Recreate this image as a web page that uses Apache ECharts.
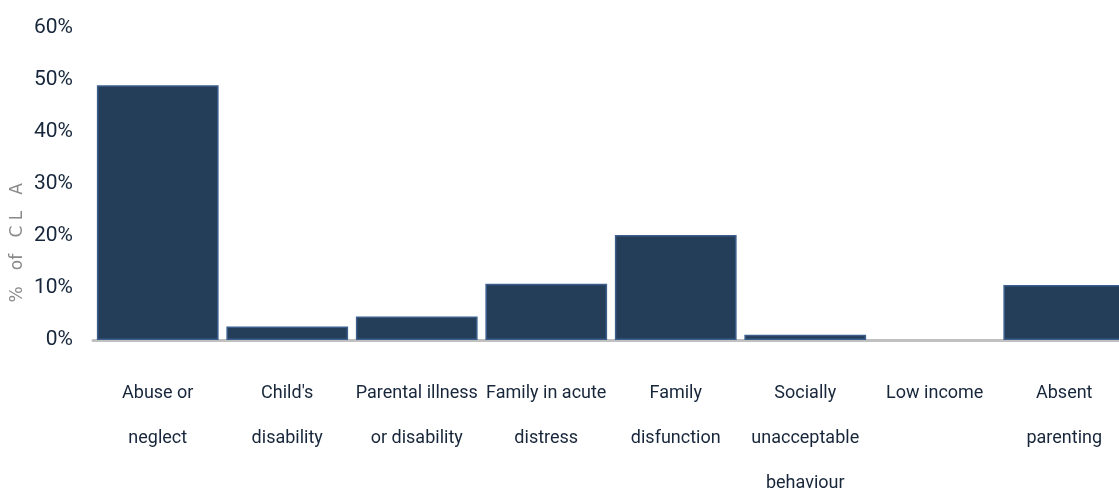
<!DOCTYPE html>
<html>
<head>
<meta charset="utf-8">
<script src="https://cdn.jsdelivr.net/npm/echarts@6/dist/echarts.min.js"></script>
<style>
  html, body { margin: 0; padding: 0; background: #fff; }
  #chart { width: 1119px; height: 496px; }
</style>
</head>
<body>
<div id="chart"></div>
<script>
// reasons for children being looked after
const categories = [
  'Abuse or\nneglect',
  "Child's\ndisability",
  'Parental illness\nor disability',
  'Family in acute\ndistress',
  'Family\ndisfunction',
  'Socially\nunacceptable\nbehaviour',
  'Low income',
  'Absent\nparenting'
];
const shares = [49.0, 2.6, 4.5, 10.8, 20.2, 1.0, 0, 10.6];
const yTicks = [0, 10, 20, 30, 40, 50, 60];

const font = 'Roboto, sans-serif';
const chart = echarts.init(document.getElementById('chart'));

chart.setOption({
  animation: false,
  grid: { left: 93, top: 28, width: 1036, height: 312, outerBoundsMode: 'none' },
  xAxis: {
    type: 'category',
    data: categories,
    axisLine: { lineStyle: { color: '#c0c0c0', width: 3 } },
    axisTick: { show: false },
    axisLabel: {
      interval: 0,
      margin: 31,
      fontFamily: font,
      fontSize: 18,
      lineHeight: 45,
      color: '#17263a'
    }
  },
  yAxis: {
    type: 'value',
    min: yTicks[0],
    max: yTicks[yTicks.length - 1],
    interval: 10,
    splitLine: { show: false },
    axisLine: { show: false },
    axisTick: { show: false },
    axisLabel: {
      margin: 20,
      fontFamily: font,
      fontSize: 21,
      color: '#17263a',
      formatter: (v) => v + '%'
    }
  },
  graphic: [{
    type: 'text',
    left: 9,
    top: 183,
    rotation: Math.PI / 2,
    style: {
      text: '%   of   C L   A',
      fontFamily: 'DejaVu Sans, sans-serif',
      fontSize: 17,
      fill: '#8a8a8a'
    }
  }],
  series: [{
    type: 'bar',
    data: shares.map((v) => ({
      value: v,
      itemStyle: v === 0 ? { borderWidth: 0 } : undefined
    })),
    barCategoryGap: '6%',
    itemStyle: {
      color: '#243d59',
      borderColor: '#3b5e8c',
      borderWidth: 1.5
    }
  }]
});
</script>
</body>
</html>
